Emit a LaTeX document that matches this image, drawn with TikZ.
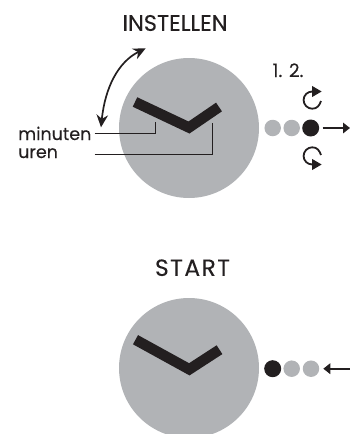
\documentclass[tikz,border=0pt]{standalone}
\usepackage{fontspec}
\setmainfont[FakeBold=0.08]{Poppins}
\usetikzlibrary{arrows.meta}
\definecolor{dial}{HTML}{B1B3B6}
\definecolor{ink}{HTML}{231F20}
\tikzset{
  x=1pt,y=-1pt,
  face/.style={circle,fill=dial,draw=none,minimum size=140pt,inner sep=0pt},
  gdot/.style={circle,fill=dial,draw=none,minimum size=16.5pt,inner sep=0pt},
  bdot/.style={circle,fill=ink,draw=none,minimum size=17pt,inner sep=0pt},
  hand/.style={draw=ink,line width=10.5pt,miter limit=10,line join=miter},
  lead/.style={draw=ink,line width=1.5pt},
  tip/.style={draw=ink,line width=1.7pt,-{Triangle[length=7pt,width=10.5pt]}},
  rot/.style={draw=ink,line width=1.8pt,-{Triangle[length=9.5pt,width=10.5pt]}},
  title/.style={text=ink,inner sep=0pt},
  lab/.style={font=\fontsize{17.5}{19}\selectfont,text=ink,inner sep=0pt,anchor=base west},
}
\begin{document}
\begin{tikzpicture}
\useasboundingbox (0,0) rectangle (350,434);
\clip (0,0) rectangle (350,434);
\node[title,font=\fontsize{22.5}{24}\selectfont] (t1) at (175,23) {INSTELLEN};
\node[face] (c1) at (189,128) {};
\coordinate (h1a) at (135,102);
\coordinate (h1v) at (189,127.5);
\coordinate (h1b) at (219,107);
\draw[hand] (h1a) -- (h1v) -- (h1b);
\node[lab] (m) at (18,140) {minuten};
\node[lab] (u) at (18,158) {uren};
\coordinate (m0) at (94.5,133.3);
\coordinate (m1) at (155.7,133.3);
\coordinate (m2) at (155.7,121.5);
\coordinate (u0) at (94.5,154.7);
\coordinate (u1) at (212.3,154.7);
\coordinate (u2) at (212.3,123);
\draw[lead] (m0) -- (m1) -- (m2);
\draw[lead] (u0) -- (u1) -- (u2);
\coordinate (a0) at (145.7,48.3);
\coordinate (a1) at (101,127.3);
\draw[draw=ink,line width=1.7pt,{Stealth[length=12.5pt,width=11.5pt]}-{Stealth[length=12.5pt,width=11.5pt]}] (a0) .. controls (118,62) and (105,88) .. (a1);
\node[title,font=\fontsize{18.5}{20}\selectfont,anchor=base] (n) at (288,77) {1. 2.};
\node[gdot] (d1) at (272.7,128) {};
\node[gdot] (d2) at (291.7,128) {};
\node[bdot] (d3) at (310.7,128) {};
\coordinate (e1) at (350,128);
\coordinate (s1) at (322.7,128);
\draw[tip] (s1) -- (e1);
\draw[rot] (321,101) .. controls (319.5,105.5) and (317,108.7) .. (312.3,108.7) .. controls (307.5,108.7) and (303.6,104.8) .. (303.6,100) .. controls (303.6,95.2) and (307.5,91.5) .. (312.3,91.5) -- (321.7,91.5);
\draw[rot] (321,155) .. controls (319.5,150.5) and (317,147.3) .. (312.3,147.3) .. controls (307.5,147.3) and (303.6,151.2) .. (303.6,156) .. controls (303.6,160.8) and (307.5,164.5) .. (312.3,164.5) -- (321.7,164.5);
\node[title,font=\fontsize{23.5}{25}\selectfont\addfontfeature{LetterSpace=6}] (t2) at (192.5,267.7) {START};
\node[face] (c2) at (189,368) {};
\coordinate (h2a) at (135.5,339.7);
\coordinate (h2v) at (189.3,369.3);
\coordinate (h2b) at (219.5,349.7);
\draw[hand] (h2a) -- (h2v) -- (h2b);
\node[bdot] (f1) at (272.7,368.7) {};
\node[gdot] (f2) at (291.7,368.7) {};
\node[gdot] (f3) at (311,368.7) {};
\coordinate (e2) at (350,368.7);
\coordinate (s2) at (323.3,368.7);
\draw[tip] (e2) -- (s2);
\end{tikzpicture}
\end{document}
